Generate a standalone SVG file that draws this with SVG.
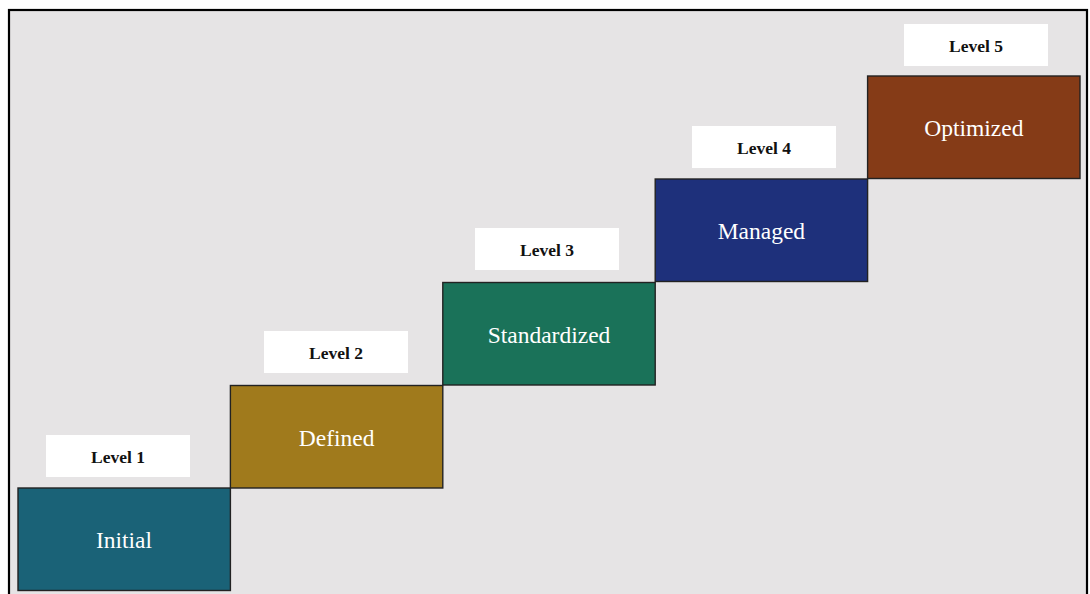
<svg xmlns="http://www.w3.org/2000/svg" width="1090" height="594" viewBox="0 0 1090 594">
  <style>
    .frame { fill: #e6e4e5; stroke: #000; stroke-width: 2.2; }
    .step { stroke: #222; stroke-width: 1.4; }
    .tag { fill: #ffffff; }
    .tag-text { font-family: "Liberation Serif", "Times New Roman", serif; font-weight: bold; font-size: 17.5px; fill: #111; text-anchor: middle; }
    .step-text { font-family: "Liberation Serif", "Times New Roman", serif; font-size: 23.5px; fill: #ffffff; text-anchor: middle; }
  </style>

  <!-- background panel -->
  <rect class="frame" x="9" y="10" width="1078" height="600"/>

  <!-- staircase of maturity levels -->
  <g id="level1">
    <rect class="tag" x="46" y="435" width="144" height="42"/>
    <text class="tag-text" x="118" y="462.5">Level 1</text>
    <rect class="step" x="18" y="488" width="212.4" height="102.5" fill="#1a6277"/>
    <text class="step-text" x="124" y="547.5">Initial</text>
  </g>

  <g id="level2">
    <rect class="tag" x="264" y="331" width="144" height="42"/>
    <text class="tag-text" x="336" y="358.5">Level 2</text>
    <rect class="step" x="230.4" y="385.5" width="212.4" height="102.5" fill="#a07a1c"/>
    <text class="step-text" x="336.6" y="445.5">Defined</text>
  </g>

  <g id="level3">
    <rect class="tag" x="475" y="228" width="144" height="42"/>
    <text class="tag-text" x="547" y="255.5">Level 3</text>
    <rect class="step" x="442.8" y="282.5" width="212.4" height="102.5" fill="#1a7259"/>
    <text class="step-text" x="549" y="342.5">Standardized</text>
  </g>

  <g id="level4">
    <rect class="tag" x="692" y="126" width="144" height="42"/>
    <text class="tag-text" x="764" y="153.5">Level 4</text>
    <rect class="step" x="655.2" y="179" width="212.4" height="102.5" fill="#1e307b"/>
    <text class="step-text" x="761.4" y="239">Managed</text>
  </g>

  <g id="level5">
    <rect class="tag" x="904" y="24" width="144" height="42"/>
    <text class="tag-text" x="976" y="51.5">Level 5</text>
    <rect class="step" x="867.6" y="76" width="212.4" height="102.5" fill="#853b17"/>
    <text class="step-text" x="973.8" y="136">Optimized</text>
  </g>
</svg>
